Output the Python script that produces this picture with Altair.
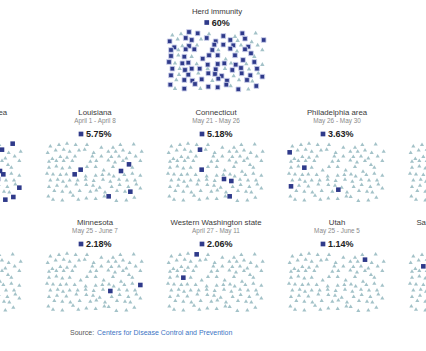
import altair as alt
import pandas as pd

# ---- base dot layout (zoomed 3x units) ----
base_x = [22, 48, 72, 98, 132, 175, 210, 232, 272,
          14, 38, 62, 80, 108, 125, 152, 196, 218, 240, 260, 296,
          28, 52, 72, 96, 148, 175, 205, 228, 250, 278,
          18, 40, 62, 88, 142, 160, 196, 216, 240, 258, 292,
          18, 40, 58, 80, 113, 132, 158, 182, 210, 234, 268,
          12, 30, 52, 70, 95, 128, 158, 178, 198, 212, 244, 268, 292,
          22, 44, 60, 80, 104, 128, 152, 180, 202, 228, 252, 276,
          18, 42, 70, 100, 130, 150, 170, 206, 230, 256, 280, 292,
          34, 58, 82, 110, 142, 160, 186, 222, 246, 262,
          16, 30, 58, 90, 106, 130, 158, 184, 197, 220, 250, 274]
base_y = [66, 62, 58, 62, 62, 70, 70, 62, 60,
          86, 78, 76, 82, 78, 76, 86, 82, 82, 78, 86, 82,
          104, 98, 100, 96, 96, 96, 98, 96, 102, 96,
          112, 110, 110, 110, 112, 110, 108, 114, 110, 122, 110,
          130, 126, 132, 130, 138, 128, 128, 138, 128, 142, 130,
          148, 150, 152, 150, 152, 156, 154, 152, 150, 156, 152, 148, 154,
          168, 166, 172, 168, 168, 166, 170, 166, 172, 166, 168, 168,
          188, 184, 186, 180, 182, 184, 190, 188, 182, 188, 180, 192,
          200, 202, 204, 200, 202, 198, 204, 200, 202, 204,
          216, 226, 228, 214, 226, 222, 224, 216, 218, 230, 228, 220]

# ---- panels ----
panel_names = ["New York City area", "Louisiana", "Connecticut", "Philadelphia area", "South Florida",
               "Missouri", "Minnesota", "Western Washington state", "Utah", "San Francisco Bay area"]
panel_dates = ["March 23 - April 1", "April 1 - April 8", "May 21 - May 26", "May 26 - May 30",
               "April 6 - April 10", "April 20 - April 26", "May 25 - June 7", "April 27 - May 11",
               "May 25 - June 5", "April 23 - April 27"]
panel_pcts = ["6.93%", "5.75%", "5.18%", "3.63%", "1.85%",
              "2.65%", "2.18%", "2.06%", "1.14%", "1%"]
panel_row = [0, 0, 0, 0, 0, 1, 1, 1, 1, 1]
panel_col = [0, 1, 2, 3, 4, 0, 1, 2, 3, 4]
# positions of the infected (square) dots, read in the same units as the base layout
panel_squares = [
    [(276, 63), (247, 81), (234, 127), (238, 144), (239, 166), (287, 197), (291, 213), (265, 223)],
    [(113, 138), (95, 152), (234, 142), (258, 122), (262, 204), (197, 218)],
    [(116, 78), (111, 138), (175, 172), (202, 178), (195, 218)],
    [(10, 88), (64, 130), (20, 190), (154, 192)],
    [],
    [],
    [(205, 176), (293, 154)],
    [(95, 63), (67, 130)],
    [(238, 80)],
    [(51, 89)],
]

herd_title = "Herd immunity"
herd_pct = "60%"
herd_triangles = [0, 1, 4, 6, 8, 10, 13, 17, 19, 22, 24, 28, 30, 32, 36, 38, 41, 43, 45, 49, 52,
                  54, 57, 61, 63, 65, 67, 71, 73, 76, 79, 81, 85, 88, 90, 94, 97, 99, 101, 104, 108, 110]

source_label = "Source:"
source_link = "Centers for Disease Control and Prevention"

SQ = "#2f3a8a"
TRI = "#a3c2c8"
FONT = "Liberation Sans"

# ---- layout helpers ----
COL0, COLSTEP = -26, 121
ROWSTEP = 110


def text_w(s, f):
    w = {".": 0.278, "%": 0.889}
    return f * sum(w.get(c, 0.556) for c in s)


def dot_pos(cx, top, i):
    return cx + base_x[i] / 3 - 52, top + (base_y[i] - 58) / 3


pts, titles, dates, pcts, legsq = [], [], [], [], []
for k, name in enumerate(panel_names):
    cx = COL0 + COLSTEP * panel_col[k]
    dy = ROWSTEP * panel_row[k]
    top = 143 + dy
    used = set()
    for (sx, sy) in panel_squares[k]:
        best = min((i for i in range(len(base_x)) if i not in used),
                   key=lambda i: (base_x[i] - sx) ** 2 + (base_y[i] - sy) ** 2)
        used.add(best)
    for i in range(len(base_x)):
        x, y = dot_pos(cx, top, i)
        pts.append({"x": x, "y": y, "kind": "sq" if i in used else "tri", "herd": False})
    titles.append({"x": cx, "y": 113 + dy, "t": name})
    dates.append({"x": cx, "y": 121 + dy, "t": panel_dates[k]})
    tw = text_w(panel_pcts[k], 9)
    total = 5 + 2.5 + tw
    pcts.append({"x": cx - total / 2 + 7.5, "y": 134 + dy, "t": panel_pcts[k]})
    legsq.append({"x": cx - total / 2 + 2.5, "y": 134 + dy})

# herd immunity panel
hcx, htop = 217, 32
for i in range(len(base_x)):
    x, y = dot_pos(hcx, htop, i)
    pts.append({"x": x, "y": y, "kind": "tri" if i in herd_triangles else "sq", "herd": True})
titles.append({"x": hcx, "y": 11.5, "t": herd_title})
tw = text_w(herd_pct, 9)
total = 5 + 2.5 + tw
pcts.append({"x": hcx - total / 2 + 7.5, "y": 22.5, "t": herd_pct})
legsq.append({"x": hcx - total / 2 + 2.5, "y": 22.5})

P = pd.DataFrame(pts)
X = alt.X("x:Q", scale=alt.Scale(domain=[0, 426]), axis=None)
Y = alt.Y("y:Q", scale=alt.Scale(domain=[0, 351], reverse=True), axis=None)

base = alt.Chart(P)
tri_small = base.transform_filter("datum.kind == 'tri' && !datum.herd").mark_point(
    shape="triangle-up", filled=True, size=17, color=TRI, opacity=1, clip=True).encode(x=X, y=Y)
tri_big = base.transform_filter("datum.kind == 'tri' && datum.herd").mark_point(
    shape="triangle-up", filled=True, size=19, color=TRI, opacity=1, clip=True).encode(x=X, y=Y)
sq_small = base.transform_filter("datum.kind == 'sq' && !datum.herd").mark_point(
    shape="square", filled=True, size=21, color=SQ, opacity=1, clip=True).encode(x=X, y=Y)
sq_big = base.transform_filter("datum.kind == 'sq' && datum.herd").mark_point(
    shape="square", filled=True, size=22, fill=SQ, stroke="#cdd1ec", strokeWidth=0.9,
    opacity=1, clip=True).encode(x=X, y=Y)

t_title = alt.Chart(pd.DataFrame(titles)).mark_text(
    font=FONT, fontSize=7.8, color="#3a3a3a", align="center", baseline="middle", clip=True
).encode(x=X, y=Y, text="t:N")
t_date = alt.Chart(pd.DataFrame(dates)).mark_text(
    font=FONT, fontSize=6.4, color="#8a8a8a", align="center", baseline="middle", clip=True
).encode(x=X, y=Y, text="t:N")
t_pct = alt.Chart(pd.DataFrame(pcts)).mark_text(
    font=FONT, fontSize=9, fontWeight="bold", color="#222222", align="left", baseline="middle", clip=True
).encode(x=X, y=Y, text="t:N")
leg = alt.Chart(pd.DataFrame(legsq)).mark_point(
    shape="square", filled=True, size=22, color=SQ, opacity=1, clip=True).encode(x=X, y=Y)

src = pd.DataFrame([{"x": 70, "y": 333, "t": source_label}])
lnk = pd.DataFrame([{"x": 97, "y": 333, "t": source_link}])
t_src = alt.Chart(src).mark_text(font=FONT, fontSize=7, color="#555555", align="left",
                                 baseline="middle").encode(x=X, y=Y, text="t:N")
t_lnk = alt.Chart(lnk).mark_text(font=FONT, fontSize=7, color="#3d74c4", align="left",
                                 baseline="middle").encode(x=X, y=Y, text="t:N")

chart = alt.layer(tri_small, tri_big, sq_small, sq_big, leg, t_title, t_date, t_pct, t_src, t_lnk).properties(
    width=426, height=351, padding=0, autosize=alt.AutoSizeParams(type="none"),
    background="white"
).configure_view(stroke=None)

chart.save("out.html", embed_options={"renderer": "svg", "actions": False})
